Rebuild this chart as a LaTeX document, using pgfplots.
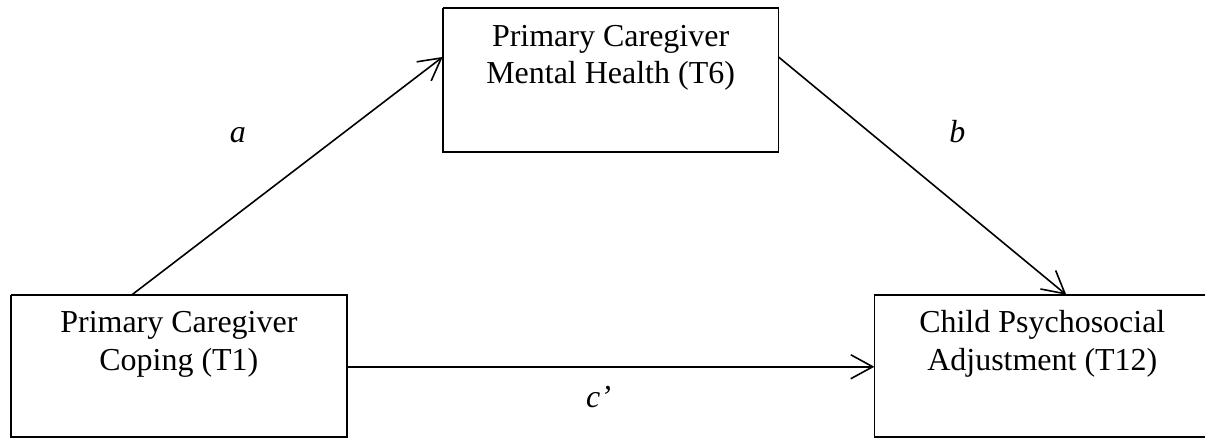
\documentclass[border=0pt]{standalone}
\usepackage{fontspec}
\setmainfont{Liberation Serif}
\usepackage{pgfplots}
\pgfplotsset{compat=1.18}
\usetikzlibrary{arrows.meta}
\begin{document}
\begin{tikzpicture}
\begin{axis}[
  width=603pt, height=219.5pt, scale only axis,
  xmin=0, xmax=1206, ymin=0, ymax=439, y dir=reverse,
  hide axis, clip=false,
]
% invisible frame for bounding box
\addplot[draw=none, forget plot] coordinates {(0,0) (1206,439)};
% boxes
\addplot[black, line width=0.8pt, mark=none] coordinates {(11,295) (347,295) (347,437) (11,437) (11,295)};
\addplot[black, line width=0.8pt, mark=none] coordinates {(443,8) (779,8) (779,152) (443,152) (443,8)};
\addplot[black, line width=0.8pt, mark=none] coordinates {(1206,295) (875,295) (875,437) (1206,437)};
% arrows
\addplot[black, line width=0.8pt, mark=none, -{Straight Barb[length=11pt,width=12pt,line width=0.8pt]}] coordinates {(132,295) (443,57)};
\addplot[black, line width=0.8pt, mark=none, -{Straight Barb[length=11pt,width=12pt,line width=0.8pt]}] coordinates {(779,57) (1067,295)};
\addplot[black, line width=0.8pt, mark=none, -{Straight Barb[length=11pt,width=12pt,line width=0.8pt]}] coordinates {(347,367) (875,367)};
% texts
\fontsize{16}{18}\selectfont
\node[anchor=base] at (axis cs:179,333) {Primary Caregiver};
\node[anchor=base] at (axis cs:179,371) {Coping (T1)};
\node[anchor=base] at (axis cs:611,47) {Primary Caregiver};
\node[anchor=base] at (axis cs:611,84) {Mental Health (T6)};
\node[anchor=base] at (axis cs:1043,333) {Child Psychosocial};
\node[anchor=base] at (axis cs:1043,371) {Adjustment (T12)};
\node[anchor=base] at (axis cs:238,143) {\textit{a}};
\node[anchor=base] at (axis cs:958,143) {\textit{b}};
\node[anchor=base] at (axis cs:599,408) {\textit{c\symbol{"27}}};
\end{axis}
\end{tikzpicture}
\end{document}
